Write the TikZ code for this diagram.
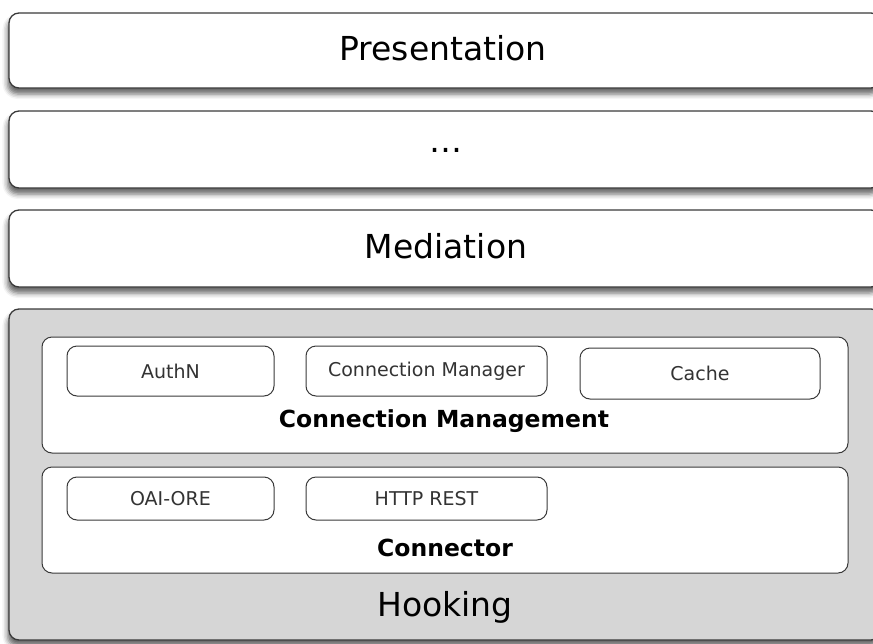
\documentclass[tikz,border=0pt]{standalone}
\usepackage{fontspec}
\setmainfont{DejaVu Sans}
\usetikzlibrary{shadows.blur}
\definecolor{hookgray}{HTML}{D6D6D6}
\definecolor{edgegray}{HTML}{3A3A3A}
\tikzset{
  layer/.style={draw=edgegray, line width=1.3pt, rounded corners=10pt, fill=white,
    blur shadow={shadow xshift=-1.5pt, shadow yshift=-6pt, shadow blur radius=5pt, shadow opacity=60}},
  group/.style={draw=edgegray, line width=1pt, rounded corners=10pt, fill=white},
  part/.style={draw=edgegray, line width=1pt, rounded corners=10pt, fill=white,
    inner sep=0pt, font=\fontsize{19}{21}\selectfont, text=black!80},
  biglabel/.style={font=\fontsize{33}{36}\selectfont},
  grouplabel/.style={font=\fontsize{23.5}{26}\selectfont\bfseries},
}
\begin{document}
\begin{tikzpicture}[x=1pt,y=-1pt]
\useasboundingbox (0,0) rectangle (873,643);
% upper layers
\draw[layer] (9,13) rectangle (881,88);
\node[biglabel] (pres) at (443,48) {Presentation};
\draw[layer] (9,111) rectangle (881,188);
\node[biglabel] (dots) at (446,150) {\dots};
\draw[layer] (9,210) rectangle (881,287);
\node[biglabel] (med) at (446,246) {Mediation};
% hooking layer
\draw[layer, fill=hookgray] (9,309) rectangle (881,640);
\node[biglabel] (hook) at (445,607) {Hooking};
\draw[group] (42,337) rectangle (848,453);
\node[grouplabel] (cm) at (444,421) {Connection Management};
\draw[group] (42,467) rectangle (848,573);
\node[grouplabel] (conn) at (445,548) {Connector};
\node[part, minimum width=207pt, minimum height=50pt] (authn) at (170.5,371) {AuthN};
\node[part, minimum width=241pt, minimum height=50pt] (cmgr) at (426.5,371) {Connection Manager};
\node[part, minimum width=240pt, minimum height=51pt] (cache) at (700,373.5) {Cache};
\node[part, minimum width=207pt, minimum height=43pt] (oai) at (170.5,498.5) {OAI-ORE};
\node[part, minimum width=241pt, minimum height=43pt] (http) at (426.5,498.5) {HTTP REST};
\end{tikzpicture}
\end{document}
